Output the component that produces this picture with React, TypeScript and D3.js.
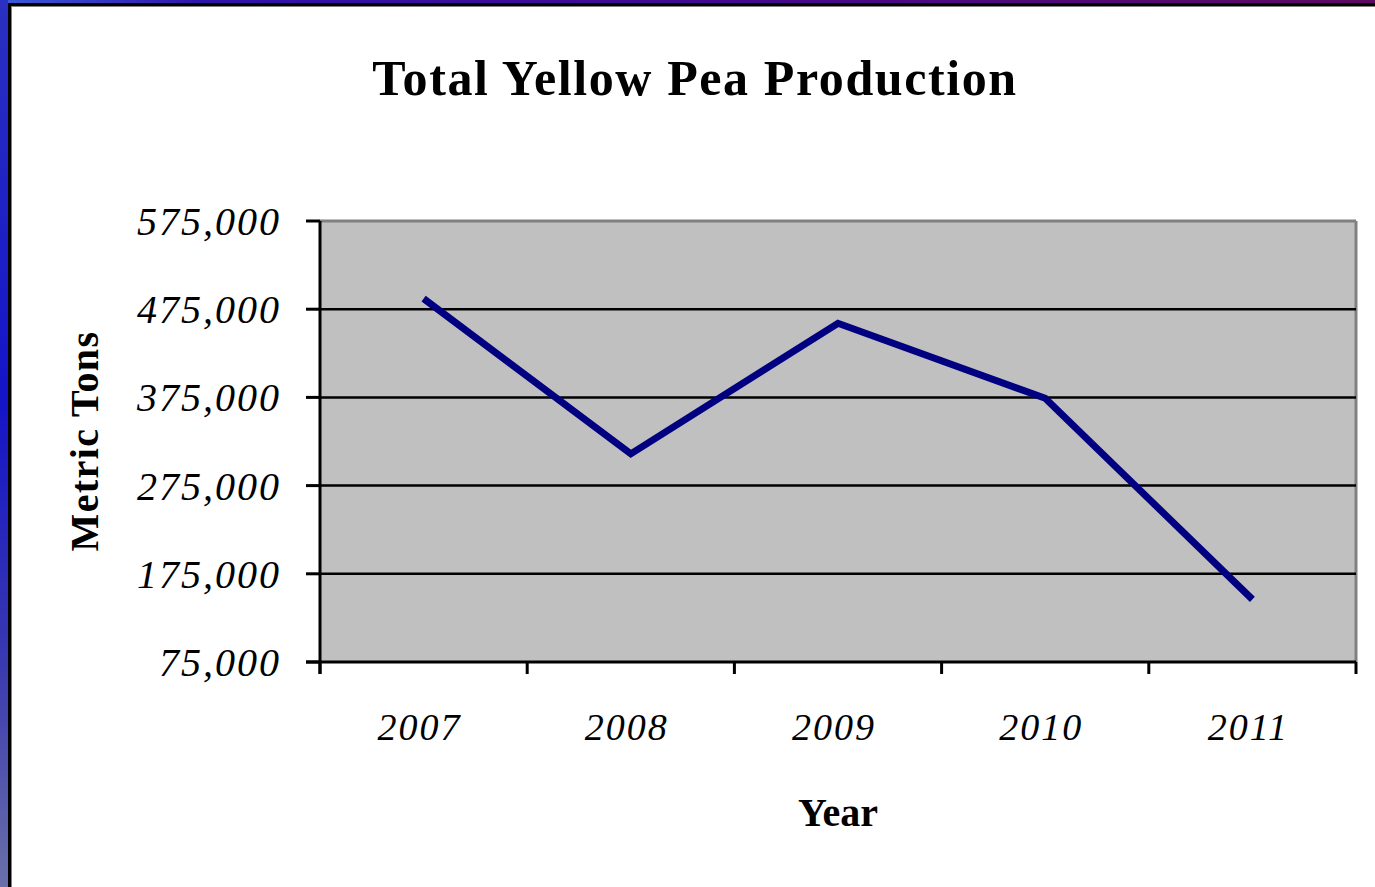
import React from "react";
import * as d3 from "d3";

const years = ["2007", "2008", "2009", "2010", "2011"];
const production = [487000, 311000, 459000, 374000, 146000];
const yTicks = [75000, 175000, 275000, 375000, 475000, 575000];

const W = 1375;
const H = 887;
const plot = { left: 320, right: 1356, top: 221, bottom: 662 };
const serif = "'Liberation Serif', 'Times New Roman', Times, serif";

export default function App() {
  const x = d3.scaleBand<string>().domain(years).range([plot.left, plot.right]).padding(0);
  const y = d3.scaleLinear().domain([75000, 575000]).range([plot.bottom, plot.top]);
  const fmt = d3.format(",");
  const line = d3
    .line<number>()
    .x((_, i) => (x(years[i]) as number) + x.bandwidth() / 2)
    .y((d) => y(d));
  const bounds = [...years.map((yr) => x(yr) as number), plot.right];

  return (
    <svg
      width={W}
      height={H}
      style={{ position: "absolute", left: 0, top: 0, display: "block" }}
    >
      <defs>
        <linearGradient id="topG" x1="0" y1="0" x2="1" y2="0">
          <stop offset="0" stopColor="#3a5ad8" />
          <stop offset="0.15" stopColor="#3014a8" />
          <stop offset="0.5" stopColor="#420a92" />
          <stop offset="1" stopColor="#5e0862" />
        </linearGradient>
        <linearGradient id="leftG" x1="0" y1="0" x2="0" y2="1">
          <stop offset="0" stopColor="#2a30c0" />
          <stop offset="0.45" stopColor="#1414c8" />
          <stop offset="0.75" stopColor="#3a3ab0" />
          <stop offset="1" stopColor="#6a70a8" />
        </linearGradient>
      </defs>
      <rect x={0} y={0} width={W} height={H} fill="#ffffff" />
      <rect x={0} y={0} width={W} height={3} fill="url(#topG)" />
      <rect x={0} y={0} width={8} height={H} fill="url(#leftG)" />
      <rect x={8} y={3} width={W - 8} height={3} fill="#000" />
      <rect x={8} y={3} width={3} height={H - 3} fill="#000" />
      <rect x={11} y={6} width={W - 11} height={1} fill="#808080" />
      <rect x={11} y={6} width={1} height={H - 6} fill="#808080" />

      <text
        x={695}
        y={95}
        textAnchor="middle"
        fontFamily={serif}
        fontWeight="bold"
        fontSize={50}
        letterSpacing={1.6}
      >
        Total Yellow Pea Production
      </text>

      <rect
        x={plot.left}
        y={plot.top}
        width={plot.right - plot.left}
        height={plot.bottom - plot.top}
        fill="#c0c0c0"
      />
      <line x1={plot.left} x2={plot.right} y1={plot.top} y2={plot.top} stroke="#808080" strokeWidth={3} />
      <line x1={plot.right} x2={plot.right} y1={plot.top} y2={plot.bottom} stroke="#808080" strokeWidth={3} />

      {yTicks.slice(1, -1).map((t) => (
        <line key={t} x1={plot.left} x2={plot.right} y1={y(t)} y2={y(t)} stroke="#000" strokeWidth={2.5} />
      ))}
      {yTicks.map((t) => (
        <g key={"yt" + t}>
          <line x1={306} x2={plot.left} y1={y(t)} y2={y(t)} stroke="#000" strokeWidth={3} />
          <text
            x={281}
            y={y(t)}
            dy="0.35em"
            textAnchor="end"
            fontFamily={serif}
            fontStyle="italic"
            fontSize={40}
            letterSpacing={2}
          >
            {fmt(t)}
          </text>
        </g>
      ))}
      <line x1={plot.left} x2={plot.left} y1={plot.top} y2={plot.bottom + 12} stroke="#000" strokeWidth={3} />
      <line x1={306} x2={plot.right} y1={plot.bottom} y2={plot.bottom} stroke="#000" strokeWidth={3} />
      {bounds.map((b, i) => (
        <line key={"xb" + i} x1={b} x2={b} y1={plot.bottom} y2={plot.bottom + 12} stroke="#000" strokeWidth={3} />
      ))}
      {years.map((yr) => (
        <text
          key={yr}
          x={(x(yr) as number) + x.bandwidth() / 2 - 4}
          y={740}
          textAnchor="middle"
          fontFamily={serif}
          fontStyle="italic"
          fontSize={38}
          letterSpacing={2}
        >
          {yr}
        </text>
      ))}

      <path
        d={line(production) || ""}
        fill="none"
        stroke="#000080"
        strokeWidth={7}
        strokeLinejoin="miter"
      />

      <text
        transform="translate(98,441) rotate(-90)"
        textAnchor="middle"
        fontFamily={serif}
        fontWeight="bold"
        fontSize={40}
        letterSpacing={1.4}
      >
        Metric Tons
      </text>
      <text
        x={838}
        y={826}
        textAnchor="middle"
        fontFamily={serif}
        fontWeight="bold"
        fontSize={40}
      >
        Year
      </text>
    </svg>
  );
}
